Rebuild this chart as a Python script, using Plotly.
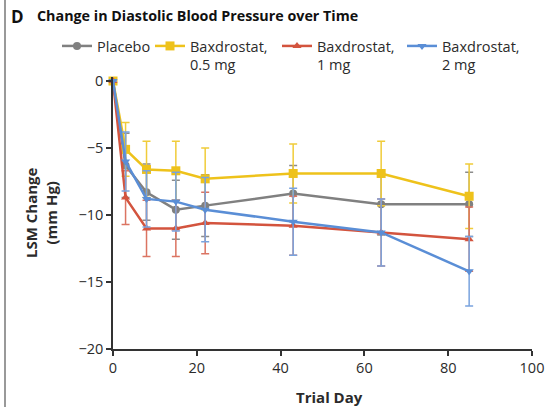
import plotly.graph_objects as go

# Trial days at which blood pressure was measured
days = [0, 3, 8, 15, 22, 43, 64, 85]

# Least-squares mean change in diastolic BP (mm Hg) and standard errors
placebo = [0, -6.3, -8.3, -9.6, -9.3, -8.4, -9.2, -9.2]
placebo_se = [None, 2.4, 2.1, 2.2, 2.3, 2.1, 2.3, 2.4]

baxd_05 = [0, -5.1, -6.6, -6.7, -7.3, -6.9, -6.9, -8.6]
baxd_05_se = [None, 2.0, 2.1, 2.2, 2.3, 2.2, 2.4, 2.4]

baxd_1 = [0, -8.7, -11.0, -11.0, -10.6, -10.8, -11.3, -11.8]
baxd_1_se = [None, 2.0, 2.1, 2.1, 2.3, 2.2, 2.5, 2.4]

baxd_2 = [0, -6.0, -8.8, -9.0, -9.6, -10.5, -11.3, -14.2]
baxd_2_se = [None, 2.2, 2.1, 2.2, 2.4, 2.5, 2.5, 2.6]

series_names = ["Placebo", "Baxdrostat,<br>0.5 mg", "Baxdrostat,<br>1 mg", "Baxdrostat,<br>2 mg"]

y_ticks = [0, -5, -10, -15, -20]
y_tick_text = ["0", "\u22125", "\u221210", "\u221215", "\u221220"]
x_ticks = [0, 20, 40, 60, 80, 100]

FONT = "Open Sans"
TEXT = "#2b2b2b"

W, H = 546, 407
L, R, T, B = 113, 14, 77, 58
pw = W - L - R
ph = H - T - B


def px_x(px):
    return (px - L) / pw


def px_y(py):
    return 1 - (py - T) / ph


styles = [
    # (values, errors, line colour, error-bar colour, marker symbol, marker size)
    (placebo, placebo_se, "#808080", "#8c8c8c", "circle", 8),
    (baxd_05, baxd_05_se, "#EEC21B", "#F0CC3A", "square", 9),
    (baxd_1, baxd_1_se, "#D3543E", "#DB7462", "triangle-up", 8),
    (baxd_2, baxd_2_se, "#5A8ED6", "#79A3DE", "triangle-down", 8),
]

# each series gets its own legend box so the entries can be spaced freely
legend_ids = ["legend", "legend2", "legend3", "legend4"]
legend_left_px = [57, 150, 277, 402]

fig = go.Figure()
for name, lid, (vals, errs, col, ecol, sym, msize) in zip(series_names, legend_ids, styles):
    fig.add_trace(go.Scatter(
        x=days, y=vals, name=name, mode="lines+markers",
        line=dict(color=col, width=2.5),
        marker=dict(symbol=sym, size=msize, color=col),
        error_y=dict(type="data", array=errs, visible=True,
                     color=ecol, thickness=1.5, width=4),
        cliponaxis=False, legend=lid,
    ))

legend_style = dict(
    orientation="h", xanchor="left", yanchor="top", valign="top",
    font=dict(family=FONT, size=14.5, color=TEXT),
    bgcolor="rgba(0,0,0,0)", itemwidth=30,
)
legends = {}
for lid, lx in zip(legend_ids, legend_left_px):
    legends[lid] = dict(legend_style, x=px_x(lx), y=px_y(30))

fig.update_layout(
    width=W, height=H,
    margin=dict(l=L, r=R, t=T, b=B, autoexpand=False),
    paper_bgcolor="white", plot_bgcolor="white",
    font=dict(family=FONT, size=14, color=TEXT),
    showlegend=True,
    xaxis=dict(
        range=[0, 100], tickvals=x_ticks, showgrid=False, zeroline=False,
        showline=True, linecolor="#333333", linewidth=1.5,
        ticks="outside", ticklen=5, tickwidth=1.5, tickcolor="#333333",
        tickfont=dict(family=FONT, size=14.5, color=TEXT),
        anchor="y", automargin=False,
    ),
    yaxis=dict(
        range=[-20, 0.3], tickvals=y_ticks, ticktext=y_tick_text,
        showgrid=False, zeroline=False,
        showline=True, linecolor="#333333", linewidth=1.5,
        ticks="outside", ticklen=5, tickwidth=1.5, tickcolor="#333333",
        tickfont=dict(family=FONT, size=14.5, color=TEXT),
        automargin=False,
    ),
    **legends,
)

# Panel letter and heading
fig.add_annotation(text="<b>D</b>", xref="paper", yref="paper",
                   x=px_x(9), y=px_y(3), xanchor="left", yanchor="top",
                   showarrow=False, font=dict(family=FONT, size=17, color="#111111"))
fig.add_annotation(text="<b>Change in Diastolic Blood Pressure over Time</b>",
                   xref="paper", yref="paper",
                   x=px_x(35), y=px_y(4), xanchor="left", yanchor="top",
                   showarrow=False, font=dict(family=FONT, size=14.3, color="#111111"))

# Axis titles
fig.add_annotation(text="<b>LSM Change<br>(mm Hg)</b>", xref="paper", yref="paper",
                   x=px_x(41), y=0.5, xanchor="center", yanchor="middle",
                   textangle=-90, showarrow=False,
                   font=dict(family=FONT, size=15, color=TEXT))
fig.add_annotation(text="<b>Trial Day</b>", xref="paper", yref="paper",
                   x=px_x(329), y=px_y(385), xanchor="center", yanchor="top",
                   showarrow=False, font=dict(family=FONT, size=15, color=TEXT))

# Left border of the panel
fig.add_shape(type="line", xref="paper", yref="paper",
              x0=px_x(5), x1=px_x(5), y0=px_y(0), y1=px_y(H),
              line=dict(color="#777777", width=1.5))

fig.write_html("out.html")
